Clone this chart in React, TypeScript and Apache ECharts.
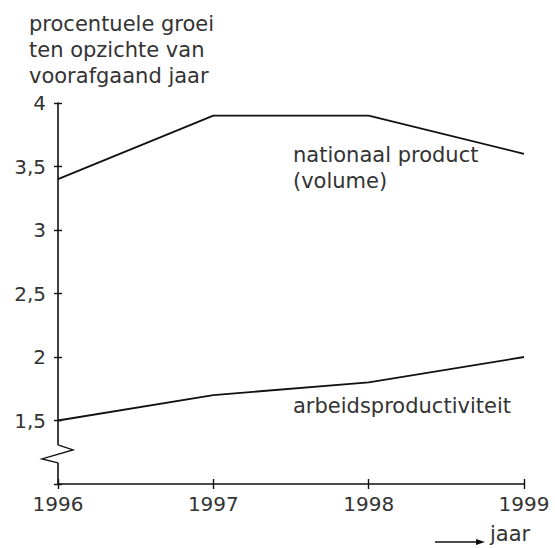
import React, { useEffect, useRef } from "react";
import * as echarts from "echarts";

const years = ["1996", "1997", "1998", "1999"];
const nationaalProduct = [3.4, 3.9, 3.9, 3.6];
const arbeidsproductiviteit = [1.5, 1.7, 1.8, 2.0];
const yMin = 1;
const yMax = 4;
const yStep = 0.5;

const FONT = "DejaVu Sans";
const TXT = "#333";
const LINE = "#111";

export default function App() {
  const ref = useRef<HTMLDivElement>(null);
  useEffect(() => {
    if (!ref.current) return;
    const chart = echarts.init(ref.current, undefined, { renderer: "svg" });
    const yBase = {
      type: "value" as const,
      min: yMin,
      max: yMax,
      interval: yStep,
      splitLine: { show: false },
    };
    chart.setOption({
      animation: false,
      backgroundColor: "#fff",
      grid: { left: 58, right: 31, top: 103, bottom: 64 },
      xAxis: [
        {
          type: "category",
          data: years,
          boundaryGap: false,
          axisLine: { lineStyle: { color: LINE, width: 1.6 } },
          axisTick: { length: 5, lineStyle: { color: LINE, width: 1.4 }, alignWithLabel: true },
          axisLabel: { color: TXT, fontFamily: FONT, fontSize: 20, margin: 10 },
        },
        {
          type: "category",
          data: years,
          boundaryGap: false,
          position: "bottom",
          axisLine: { show: false },
          axisTick: { inside: true, length: 5, lineStyle: { color: LINE, width: 1.4 } },
          axisLabel: { show: false },
        },
      ],
      yAxis: [
        {
          ...yBase,
          axisLine: { show: true, lineStyle: { color: LINE, width: 1.6 } },
          axisTick: { show: true, length: 4, lineStyle: { color: LINE, width: 1.4 } },
          axisLabel: {
            color: TXT,
            fontFamily: FONT,
            fontSize: 20,
            margin: 12,
            formatter: (v: number) => (v === yMin ? "" : String(v).replace(".", ",")),
          },
        },
        {
          ...yBase,
          position: "left",
          offset: 0,
          axisLine: { show: false },
          axisTick: { show: true, inside: true, length: 4, lineStyle: { color: LINE, width: 1.4 } },
          axisLabel: { show: false },
        },
      ],
      series: [
        {
          name: "nationaal product (volume)",
          type: "line",
          data: nationaalProduct,
          symbol: "none",
          lineStyle: { color: LINE, width: 1.8 },
        },
        {
          name: "arbeidsproductiviteit",
          type: "line",
          data: arbeidsproductiviteit,
          symbol: "none",
          lineStyle: { color: LINE, width: 1.8 },
        },
      ],
    });

    const p = chart.convertToPixel({ xAxisIndex: 0, yAxisIndex: 0 }, [0, 1.3]) as number[];
    const ax = p[0];
    const y0 = p[1] - 1;
    const textStyle = { fill: TXT, font: `21px "${FONT}"`, lineHeight: 26 };
    chart.setOption({
      graphic: [
        {
          type: "rect",
          shape: { x: ax - 3, y: y0, width: 6, height: 18 },
          style: { fill: "#fff" },
          z: 100,
        },
        {
          type: "polyline",
          shape: { points: [[ax, y0], [ax + 15, y0 + 5], [ax - 16, y0 + 14], [ax, y0 + 18]] },
          style: { stroke: LINE, lineWidth: 1.4, fill: "none" },
          z: 101,
        },
        {
          type: "text",
          x: 29,
          y: 11,
          style: { ...textStyle, text: "procentuele groei\nten opzichte van\nvoorafgaand jaar" },
        },
        {
          type: "text",
          x: 293,
          y: 142,
          style: { ...textStyle, text: "nationaal product\n(volume)" },
        },
        {
          type: "text",
          x: 293,
          y: 393,
          style: { ...textStyle, text: "arbeidsproductiviteit" },
        },
        {
          type: "text",
          x: 490,
          y: 521,
          style: { ...textStyle, text: "jaar" },
        },
        {
          type: "line",
          shape: { x1: 435, y1: 542, x2: 478, y2: 542 },
          style: { stroke: LINE, lineWidth: 1.4 },
        },
        {
          type: "polygon",
          shape: { points: [[476, 539], [485, 542], [476, 545]] },
          style: { fill: LINE },
        },
      ],
    });
    return () => chart.dispose();
  }, []);
  return <div ref={ref} style={{ width: 555, height: 548, position: "absolute", left: 0, top: 0 }} />;
}
